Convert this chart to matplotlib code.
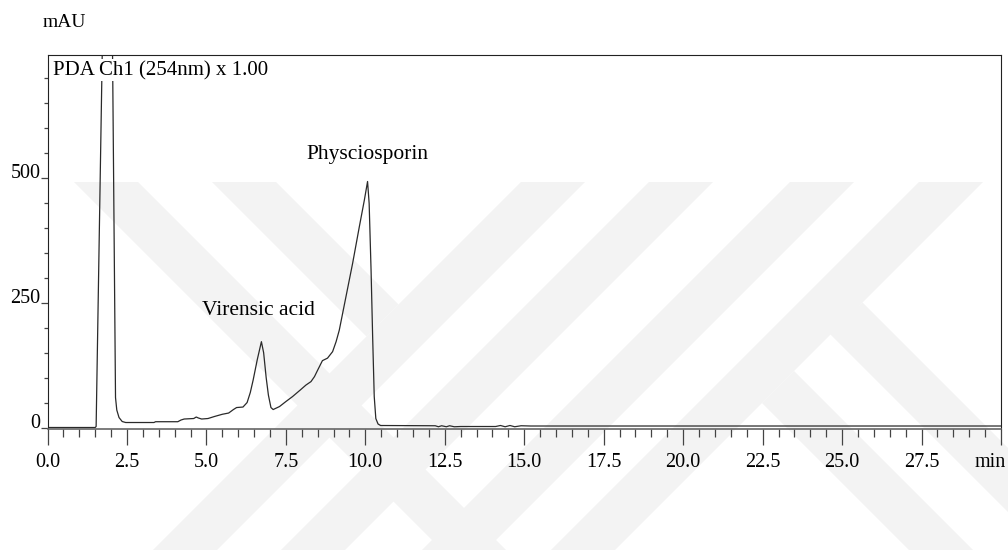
import matplotlib
matplotlib.use("Agg")
import matplotlib.pyplot as plt
from matplotlib.patches import Polygon
from matplotlib.ticker import MultipleLocator, FixedLocator
from matplotlib.transforms import ScaledTranslation

plt.rcParams['font.family'] = ['Liberation Serif', 'DejaVu Serif']

# Chromatogram trace, PDA channel 1 at 254 nm
time_min = [0.00, 1.50, 1.53, 1.725, 2.045, 2.14, 2.18, 2.25, 2.35, 2.46,
            3.35, 3.40, 4.10, 4.20, 4.30, 4.60, 4.68, 4.75, 4.85, 5.05, 5.25,
            5.50, 5.70, 5.85, 5.95, 6.15, 6.28, 6.38, 6.47, 6.60, 6.73, 6.80,
            6.88, 6.95, 7.03, 7.10, 7.30, 7.50, 7.71, 7.95, 8.13, 8.29, 8.40,
            8.50, 8.65, 8.81, 8.97, 9.08, 9.18, 9.39, 9.60, 9.81, 9.97, 10.07,
            10.12, 10.18, 10.23, 10.28, 10.33, 10.40, 10.48, 12.20, 12.30,
            12.40, 12.55, 12.65, 12.80, 13.00, 14.10, 14.25, 14.40, 14.55,
            14.70, 14.90, 15.20, 30.00]
absorbance_mau = [0, 0, 2, 760, 760, 60, 35, 20, 12, 10,
                  10, 11.6, 11.6, 15, 17, 18, 21, 19, 17, 18, 22,
                  26.5, 29, 36, 40, 41, 50, 70, 95, 136, 172, 150,
                  100, 65, 40, 36, 42, 52, 62, 75, 85, 92, 102,
                  115, 134, 139, 152, 172, 195, 262, 329, 402, 456, 493,
                  449, 316, 182, 62, 18, 7, 4, 3.5, 1.5,
                  3.5, 1.5, 3.5, 1.5, 2, 2, 4, 1.5, 4,
                  1.5, 3.5, 3, 3]

peak_names = ["Virensic acid", "Physciosporin"]
peak_times = [6.73, 10.07]
peak_heights = [172, 493]
x_major = [0.0, 2.5, 5.0, 7.5, 10.0, 12.5, 15.0, 17.5, 20.0, 22.5, 25.0, 27.5, 30.0]
x_labels = ["0.0", "2.5", "5.0", "7.5", "10.0", "12.5", "15.0", "17.5",
            "20.0", "22.5", "25.0", "27.5", ""]
y_major = [0, 250, 500]

W, H = 1008, 550
fig = plt.figure(figsize=(W / 100, H / 100), dpi=100)
fig.patch.set_facecolor("white")


def px(x, y):
    return (x / W, 1 - y / H)


# Background watermark bands (pixel geometry)
wm_color = "#f3f3f3"
bw = 64
top, bot = 182, 550
span = bot - top


def down_right(x0):
    return [(x0, top), (x0 + bw, top), (x0 + bw + span, bot), (x0 + span, bot)]


def down_left(x0):
    return [(x0, top), (x0 + bw, top), (x0 + bw - span, bot), (x0 - span, bot)]


bands = [
    down_right(74),
    [(212, top), (276, top), (398.5, 304.5), (366.5, 336.5)],
    down_left(521),
    down_left(649),
    down_left(790),
    down_left(919),
    [(762, 403), (794, 371), (973, 550), (909, 550)],
    [(829, 333), (862.5, 302.5), (1110, 550), (1046, 550)],
]
for b in bands:
    fig.patches.append(Polygon([px(x, y) for x, y in b], closed=True,
                               transform=fig.transFigure, facecolor=wm_color,
                               edgecolor="none", zorder=-10))

left, right, ytop, ybot = 47.5, 1001, 55, 429
ax = fig.add_axes([left / W, 1 - ybot / H, (right - left) / W, (ybot - ytop) / H])
ax.set_facecolor("none")

ax.plot(time_min, absorbance_mau, color="#2a2a2a", lw=0.9, zorder=2)

ax.set_xlim(0, 30)
ax.set_ylim(-3, 746.5)

for s in ["left", "top", "right"]:
    ax.spines[s].set_color("#222222")
    ax.spines[s].set_linewidth(0.8)
    ax.spines[s].set_zorder(5)
ax.spines["bottom"].set_color("#666666")
ax.spines["bottom"].set_linewidth(1.2)
ax.spines["bottom"].set_zorder(5)

ax.xaxis.set_major_locator(FixedLocator(x_major))
ax.set_xticklabels(x_labels)
ax.xaxis.set_minor_locator(MultipleLocator(0.5))
ax.tick_params(axis="x", which="major", direction="out", length=11.5, width=0.9,
               color="#444444", pad=5.5, labelsize=14.5)
ax.tick_params(axis="x", which="minor", direction="out", length=5.8, width=0.9,
               color="#444444")

ax.yaxis.set_major_locator(FixedLocator(y_major))
ax.set_yticklabels([str(v) for v in y_major])
ax.yaxis.set_minor_locator(MultipleLocator(50))
ax.tick_params(axis="y", which="major", direction="out", length=5, width=0.9,
               color="#444444", pad=0, labelsize=14.5)
ax.tick_params(axis="y", which="minor", direction="out", length=2.9, width=0.9,
               color="#444444")
for lbl in ax.get_yticklabels():
    lbl.set_va("baseline")

ax.annotate("min", xy=(30, 0), xycoords=("data", "axes fraction"),
            xytext=(-8, -17), textcoords="offset points",
            ha="center", va="top", fontsize=14.5)

# Header and channel caption
fig.text(43 / W, 1 - 27 / H, "mAU", fontsize=14, va="baseline")
ax.text(0.0055, 1 - (75 - ytop) / (ybot - ytop), "PDA Ch1 (254nm) x 1.00",
        transform=ax.transAxes, fontsize=15, va="baseline", ha="left", zorder=3,
        bbox=dict(facecolor="white", edgecolor="none", pad=1.0))

# Peak annotations
ax.text(peak_times[0], peak_heights[0], peak_names[0], fontsize=15.5,
        ha="center", va="baseline",
        transform=ax.transData + ScaledTranslation(-0.03, 0.265, fig.dpi_scale_trans))
ax.text(peak_times[1], peak_heights[1], peak_names[1], fontsize=15.5,
        ha="center", va="baseline",
        transform=ax.transData + ScaledTranslation(0.0, 0.225, fig.dpi_scale_trans))

fig.savefig("out.png", dpi=100, facecolor="white")
